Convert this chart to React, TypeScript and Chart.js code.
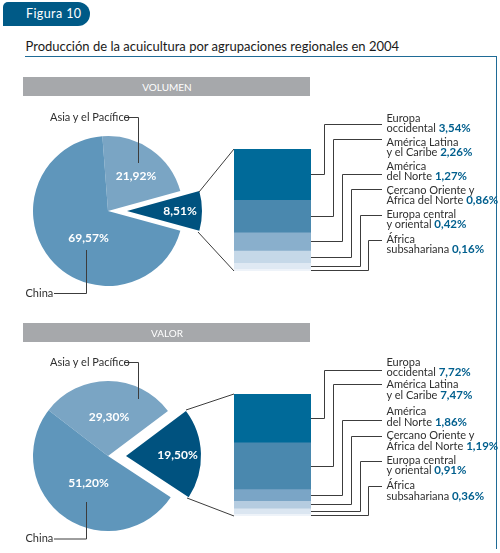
import React, { useEffect, useRef } from 'react';
import Chart from 'chart.js/auto';

const pieLabels = ['Asia y el Pacífico', 'Agrupaciones', 'China'];
const volumenPie = [21.92, 8.51, 69.57];
const valorPie = [29.3, 19.5, 51.2];

const regiones = [
  ['Europa', 'occidental'],
  ['América Latina', 'y el Caribe'],
  ['América', 'del Norte'],
  ['Cercano Oriente y', 'África del Norte'],
  ['Europa central', 'y oriental'],
  ['África', 'subsahariana'],
];
const volumenRegiones = [3.54, 2.26, 1.27, 0.86, 0.42, 0.16];
const valorRegiones = [7.72, 7.47, 1.86, 1.19, 0.91, 0.36];

const pieColors = ['#7aa5c4', '#00527f', '#5f96bb'];
const volumenBarColors = ['#006a99', '#4a88ae', '#89afcc', '#c5d8e8', '#dfe9f3', '#eef3f9'];
const valorBarColors = ['#006a99', '#4a88ae', '#7aa5c6', '#b5cce0', '#dbe6f1', '#eef3f9'];

const FONT = 'Lato, sans-serif';
const INK = '#2f2f2f';
const BLUE = '#005f8e';
const LINE = '#3c3c3c';
const NONE = 'rgba(0,0,0,0)';

const fmt = (v: number) => v.toFixed(2).replace('.', ',');

// elbow x of each leader line, same for both bars
const elbowX = [324.5, 333.5, 342.5, 351.5, 360.5, 368.5];

const PieCanvas = ({ values, rotation, colors, cx, cy }: any) => {
  const ref = useRef<HTMLCanvasElement | null>(null);
  useEffect(() => {
    if (!ref.current) return;
    const chart = new Chart(ref.current, {
      type: 'pie',
      data: {
        labels: pieLabels,
        datasets: [{ data: values, backgroundColor: colors, borderWidth: 0, hoverOffset: 0 }],
      },
      options: {
        animation: false,
        responsive: false,
        rotation,
        radius: 75,
        events: [],
        layout: { padding: 0 },
        plugins: { legend: { display: false }, tooltip: { enabled: false } },
      },
    } as any);
    return () => chart.destroy();
  }, []);
  return (
    <canvas
      ref={ref}
      width={170}
      height={170}
      style={{ position: 'absolute', left: cx - 85, top: cy - 85, width: 170, height: 170 }}
    />
  );
};

// the stacked bar, with the leader lines to the region labels drawn from its segments
const BarCanvas = ({ values, colors, left, top, padTop, barW, barH, labelY }: any) => {
  const ref = useRef<HTMLCanvasElement | null>(null);
  const width = 150;
  useEffect(() => {
    if (!ref.current) return;
    const leaders = {
      id: 'leaders',
      afterDatasetsDraw(chart: any) {
        const ctx = chart.ctx;
        ctx.save();
        ctx.strokeStyle = LINE;
        ctx.lineWidth = 1;
        values.forEach((_: number, i: number) => {
          const el = chart.getDatasetMeta(i).data[0];
          const y = Math.round((el.y + el.base) / 2) + 0.5;
          const x0 = el.x + el.width / 2;
          const xe = elbowX[i] - left;
          const yl = labelY[i] - top;
          ctx.beginPath();
          ctx.moveTo(x0, y);
          ctx.lineTo(xe, y);
          ctx.lineTo(xe, yl);
          ctx.lineTo(382 - left, yl);
          ctx.stroke();
        });
        ctx.restore();
      },
    };
    const chart = new Chart(ref.current, {
      type: 'bar',
      data: {
        labels: [''],
        datasets: values.map((v: number, i: number) => ({
          label: regiones[i].join(' '),
          data: [v],
          backgroundColor: colors[i],
          borderWidth: 0,
          barPercentage: 1,
          categoryPercentage: 1,
        })),
      },
      options: {
        animation: false,
        responsive: false,
        events: [],
        layout: { padding: { top: padTop, right: width - barW, left: 0, bottom: 0 } },
        scales: {
          x: { display: false, stacked: true },
          y: {
            display: false,
            stacked: true,
            reverse: true,
            min: 0,
            max: values.reduce((a: number, b: number) => a + b, 0),
          },
        },
        plugins: { legend: { display: false }, tooltip: { enabled: false } },
      },
      plugins: [leaders],
    } as any);
    return () => chart.destroy();
  }, []);
  return (
    <canvas
      ref={ref}
      width={width}
      height={padTop + barH}
      style={{ position: 'absolute', left, top, width, height: padTop + barH }}
    />
  );
};

const Txt = ({ x, y, w, center, size = 11, color = INK, weight = 400, spacing = 0, children }: any) => (
  <div
    style={{
      position: 'absolute',
      left: center ? x - (w || 100) / 2 : x,
      top: y - 8,
      width: center ? w || 100 : undefined,
      height: 16,
      lineHeight: '16px',
      fontSize: size,
      fontWeight: weight,
      letterSpacing: spacing,
      color,
      textAlign: center ? 'center' : 'left',
      whiteSpace: 'nowrap',
      fontFamily: FONT,
    }}
  >
    {children}
  </div>
);

const Panel = ({ title, bandY, pie, regionVals, barColors, rotation, dx, cy, barTop, barLeft, labelY, textY, pieText, asia, china, zoom }: any) => (
  <>
    <div style={{ position: 'absolute', left: 23, top: bandY, width: 287, height: 19, background: '#a6a8ab' }} />
    <Txt x={167} y={bandY + 9.5} center size={10} color="#ffffff">{title}</Txt>
    <PieCanvas values={pie} rotation={rotation} colors={[pieColors[0], NONE, pieColors[2]]} cx={108} cy={cy} />
    <PieCanvas values={pie} rotation={rotation} colors={[NONE, pieColors[1], NONE]} cx={108 + dx} cy={cy} />
    <BarCanvas
      values={regionVals}
      colors={barColors}
      left={234}
      top={barLeft}
      padTop={barTop - barLeft}
      barW={77}
      barH={122}
      labelY={labelY}
    />
    <svg width={500} height={553} style={{ position: 'absolute', left: 0, top: 0 }}>
      <g fill="none" stroke={LINE} strokeWidth={1}>
        <polyline points={asia} />
        <polyline points={china} />
        <line x1={zoom[0]} y1={zoom[1]} x2={234} y2={barTop} />
        <line x1={zoom[2]} y1={zoom[3]} x2={234} y2={barTop + 122} />
      </g>
    </svg>
    {pie.map((v: number, i: number) => (
      <Txt key={i} x={pieText[i][0]} y={pieText[i][1]} center size={12} weight={700} color="#ffffff">
        {fmt(v)}%
      </Txt>
    ))}
    <Txt x={50} y={asia.split(' ')[0].split(',')[1] - 0.5}>{pieLabels[0]}</Txt>
    <Txt x={25.5} y={china.split(' ')[0].split(',')[1] - 1}>{pieLabels[2]}</Txt>
    {regiones.map((r: string[], i: number) => (
      <React.Fragment key={i}>
        <Txt x={386.5} y={textY[i][0]}>{r[0]}</Txt>
        <Txt x={386.5} y={textY[i][1]}>
          {r[1]} <span style={{ color: BLUE, fontWeight: 700, fontSize: 11.5 }}>{fmt(regionVals[i])}%</span>
        </Txt>
      </React.Fragment>
    ))}
  </>
);

export default function App() {
  return (
    <div style={{ position: 'absolute', left: 0, top: 0, width: 500, height: 553, overflow: 'hidden', background: '#fff' }}>
      <div
        style={{
          position: 'absolute',
          left: 3,
          top: 2,
          width: 87,
          height: 24,
          background: '#005a87',
          borderRadius: '5px 12px 12px 0',
        }}
      />
      <Txt x={26} y={14} size={12.5} spacing={0.4} color="#ffffff">Figura 10</Txt>
      <Txt x={25.5} y={46} size={13} color="#1a1a1a">Producción de la acuicultura por agrupaciones regionales en 2004</Txt>
      <div
        style={{
          position: 'absolute',
          left: 25,
          top: 56,
          width: 472,
          height: 493,
          boxSizing: 'border-box',
          borderTop: '1.5px solid #1f6b96',
          borderRight: '1.5px solid #1f6b96',
        }}
      />
      <Panel
        title="VOLUMEN"
        bandY={77}
        pie={volumenPie}
        regionVals={volumenRegiones}
        barColors={volumenBarColors}
        rotation={-4.3}
        dx={19}
        cy={210.5}
        barTop={149}
        barLeft={115}
        labelY={[124.5, 139.5, 174.5, 189.5, 215.5, 240.5]}
        textY={[[118, 128], [142, 152], [166, 176], [190, 200], [214, 224], [238.5, 249]]}
        pieText={[[136, 176], [180, 211], [88.5, 237.5]]}
        asia="125,117.5 138.5,117.5 138.5,163"
        china="54,293.5 86.5,293.5 86.5,250"
        zoom={[199, 192, 198, 232]}
      />
      <Panel
        title="VALOR"
        bandY={323}
        pie={valorPie}
        regionVals={valorRegiones}
        barColors={valorBarColors}
        rotation={-52.4}
        dx={18}
        cy={455.5}
        barTop={394}
        barLeft={360}
        labelY={[370.5, 384.5, 420.5, 436.5, 461.5, 486.5]}
        textY={[[362, 372], [384, 394.5], [411, 421.5], [435, 446], [459.5, 470], [484.5, 495.5]]}
        pieText={[[109, 416.5], [177.5, 455], [88.5, 482.5]]}
        asia="125,362.5 138.5,362.5 138.5,399"
        china="54,539 86.5,539 86.5,502"
        zoom={[186, 410, 187, 498]}
      />
    </div>
  );
}
